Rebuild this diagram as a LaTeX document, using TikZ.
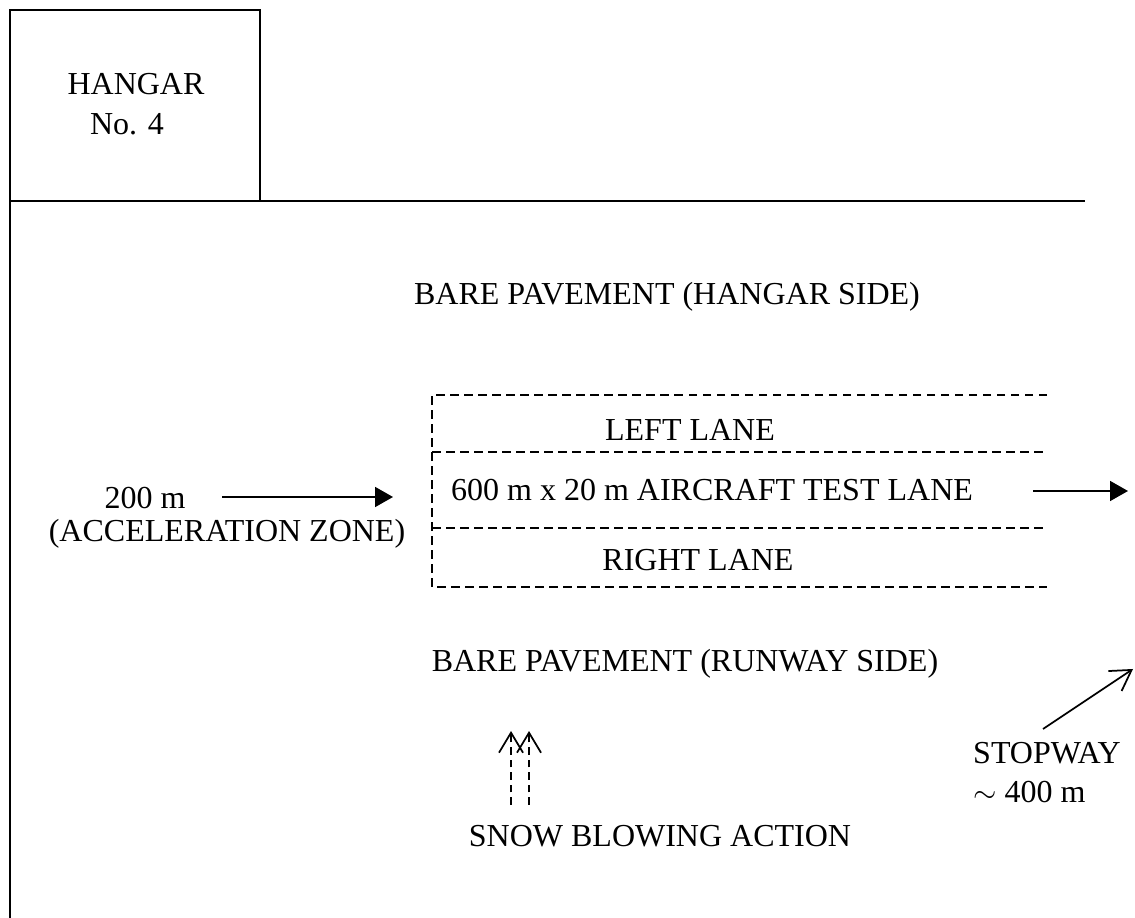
\documentclass[tikz,border=0pt]{standalone}
\usepackage{fontspec}
\setmainfont{Liberation Serif}
\usetikzlibrary{arrows.meta}

\begin{document}
\begin{tikzpicture}[x=0.4pt, y=-0.4pt, line width=0.7pt,
        font=\fontsize{12.8}{15}\selectfont,
        lanedash/.style={dash pattern=on 3.4pt off 2.2pt, line width=0.6pt},
        solidarrow/.style={-{Triangle[length=7.2pt,width=8pt]}},
        openarrow/.style={-{Straight Barb[length=8pt,width=9.6pt]}}]
        \useasboundingbox (0,0) rectangle (1135,918);

        % Hangar and apron edge
        \draw (10,10) rectangle (260,201);
        \draw (10,918) -- (10,201) -- (1085,201);
        \node (hangar) at (136,84) {HANGAR};
        \node (hangarno) at (127,124) {No. 4};

        % Bare pavement on both sides
        \node (hangarside) at (667,297) {BARE PAVEMENT (HANGAR SIDE)};
        \node (runwayside) at (685,664) {BARE PAVEMENT (RUNWAY SIDE)};

        % Test lane
        \draw[lanedash] (1047,395) -- (432,395) -- (432,587) -- (1047,587);
        \draw[lanedash] (432,452) -- (1047,452);
        \draw[lanedash] (432,528) -- (1047,528);
        \node (leftlane) at (690,430) {LEFT LANE};
        \node (testlane) at (712,490) {600 m x 20 m AIRCRAFT TEST LANE};
        \node (rightlane) at (698,560) {RIGHT LANE};
        \coordinate (runstart) at (1033,491);
        \coordinate (runend) at (1128,491);
        \draw[solidarrow] (runstart) -- (runend);

        % Acceleration zone
        \node (accel) at (145,498) {200 m};
        \node (accelzone) at (227,534) {(ACCELERATION ZONE)};
        \coordinate (accelstart) at (222,497);
        \coordinate (accelend) at (393,497);
        \draw[solidarrow] (accelstart) -- (accelend);

        % Stopway
        \node[anchor=west] (stopway) at (964,753) {STOPWAY};
        \node[anchor=west] (stopdist) at (964,792) {$\sim$ 400 m};
        \coordinate (stopstart) at (1043,729);
        \coordinate (stopend) at (1133,669);
        \draw[openarrow] (stopstart) -- (stopend);

        % Snow blowing
        \node (snow) at (660,836) {SNOW BLOWING ACTION};
        \coordinate (snowa) at (511,805);
        \coordinate (snowb) at (529,805);
        \draw[openarrow, dash pattern=on 3pt off 2pt] (snowa) -- (511,731);
        \draw[openarrow, dash pattern=on 3pt off 2pt] (snowb) -- (529,731);
\end{tikzpicture}
\end{document}
